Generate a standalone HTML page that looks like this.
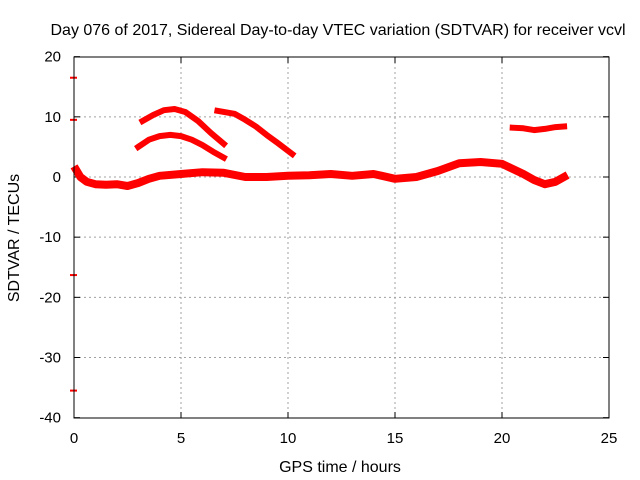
<!DOCTYPE html>
<html><head><meta charset="utf-8"><style>
body{margin:0;background:#fff}
svg{display:block;font-family:"Liberation Sans",sans-serif}
</style></head><body>
<svg id="chart" width="640" height="480">
<text x="338" y="35" text-anchor="middle" font-size="16">Day 076 of 2017, Sidereal Day-to-day VTEC variation (SDTVAR) for receiver vcvl</text>
<text x="340" y="472" text-anchor="middle" font-size="16">GPS time / hours</text>
<text transform="translate(19,238) rotate(-90)" text-anchor="middle" font-size="16">SDTVAR / TECUs</text>
<g id="grid"></g>
<g id="ticks"></g>
<g id="series"></g>
<rect x="74" y="57" width="535" height="361" fill="none" stroke="#000" stroke-width="1"/>
</svg>
<script>
const xTicks=[0,5,10,15,20,25];
const yTicks=[20,10,0,-10,-20,-30,-40];
const bandH=[0.1,0.3,0.6,1,1.5,2,2.5,3,3.5,4,5,6,7,8,9,10,11,12,13,14,15,16,17,18,19,20,21,21.5,22,22.5,22.9];
const bandV=[1.2,0,-0.8,-1.2,-1.3,-1.2,-1.5,-1,-0.3,0.2,0.5,0.8,0.7,0,0,0.2,0.3,0.5,0.2,0.5,-0.3,0,1,2.3,2.5,2.2,0.5,-0.5,-1.2,-0.8,0];
const arc1H=[3.2,3.7,4.2,4.7,5.2,5.8,6.4,7];
const arc1V=[9.3,10.3,11.1,11.3,10.8,9.3,7.3,5.5];
const arc2H=[3,3.5,4,4.5,5,5.5,6,6.5,7];
const arc2V=[5,6.2,6.8,7,6.8,6.2,5.3,4.2,3.2];
const arc3H=[6.7,7.5,8,8.5,9,9.5,10.2];
const arc3V=[11,10.5,9.5,8.4,7,5.7,3.8];
const segH=[20.5,21,21.5,22,22.5,22.9];
const segV=[8.2,8.1,7.8,8,8.3,8.4];
const outH=[0,0,0,0];
const outV=[16.5,9.5,-16.3,-35.5];
const X=h=>74+h*535/25, Y=v=>177-v*361/60;
const NS="http://www.w3.org/2000/svg";
function mk(t,a,p){const e=document.createElementNS(NS,t);for(const k in a)e.setAttribute(k,a[k]);p.appendChild(e);return e;}
const grid=document.getElementById('grid'),ticks=document.getElementById('ticks'),ser=document.getElementById('series'),svg=document.getElementById('chart');
xTicks.forEach(t=>{const x=X(t);
 if(t>0&&t<25){const l=mk('line',{x1:x,x2:x,y1:57,y2:418,stroke:'#a0a0a0','stroke-dasharray':'2,3'},grid);}
 mk('line',{x1:x,x2:x,y1:418,y2:412,stroke:'#000'},ticks);mk('line',{x1:x,x2:x,y1:57,y2:63,stroke:'#000'},ticks);
 const tx=mk('text',{x:x,y:443,'text-anchor':'middle','font-size':15},svg);tx.textContent=t;
 });
yTicks.forEach(t=>{const y=Y(t);
 if(t<20&&t>-40){const l=mk('line',{x1:74,x2:609,y1:y,y2:y,stroke:'#a0a0a0','stroke-dasharray':'2,3'},grid);}
 mk('line',{x1:74,x2:80,y1:y,y2:y,stroke:'#000'},ticks);mk('line',{x1:603,x2:609,y1:y,y2:y,stroke:'#000'},ticks);
 const tx=mk('text',{x:61,y:y+5,'text-anchor':'end','font-size':15},svg);tx.textContent=t;
 });
function line(H,V,w,name){const pts=H.map((h,i)=>X(h).toFixed(1)+','+Y(V[i]).toFixed(1)).join(' ');
 const p=mk('polyline',{points:pts,fill:'none',stroke:'#f00','stroke-width':w,'stroke-linejoin':'round','stroke-linecap':'square'},ser);
 }
line(bandH,bandV,8,'main-band-series');
line(arc1H,arc1V,6,'arc-1-series');
line(arc2H,arc2V,6,'arc-2-series');
line(arc3H,arc3V,6,'arc-3-series');
line(segH,segV,6,'late-segment-series');
outH.forEach((h,i)=>{const p=mk('line',{x1:X(h)-4,x2:X(h)+3,y1:Y(outV[i]),y2:Y(outV[i]),stroke:'#f00','stroke-width':2},ser);
 });
</script>
</body></html>
